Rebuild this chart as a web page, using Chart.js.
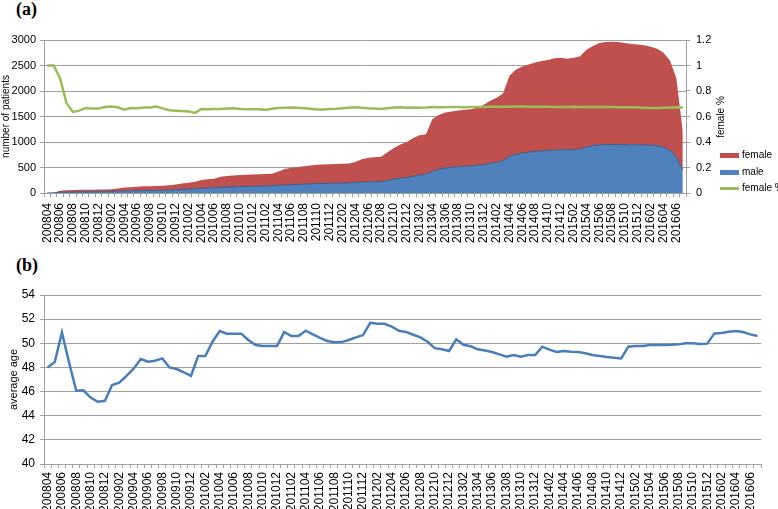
<!DOCTYPE html>
<html><head><meta charset="utf-8">
<script src="https://cdn.jsdelivr.net/npm/chart.js@4.4.1/dist/chart.umd.min.js"></script>
<style>
html,body{margin:0;padding:0;background:#fff;}
#wrap{position:relative;width:778px;height:509px;overflow:hidden;background:#fff;font-family:"Liberation Sans",Arial,sans-serif;}
canvas{position:absolute;left:0;}
.ptitle{position:absolute;font-family:"Liberation Serif","Times New Roman",serif;font-weight:bold;font-size:18px;line-height:18px;color:#000;}
.lg{position:absolute;left:720px;font-size:10px;line-height:12px;color:#000;white-space:nowrap;}
.sw{display:inline-block;width:19px;vertical-align:middle;margin-right:3px;}
.rt{position:absolute;font-size:10px;color:#000;white-space:nowrap;transform:translate(-50%,-50%) rotate(-90deg);}
</style></head>
<body>
<div id="wrap">
  <div class="ptitle" style="left:16px;top:0px;">(a)</div>
  <div class="ptitle" style="left:16px;top:256px;">(b)</div>
  <canvas id="ca" width="778" height="250" style="top:0px"></canvas>
  <canvas id="cb" width="778" height="259" style="top:250px"></canvas>
  <div class="rt" style="left:720px;top:117px;">female %</div>
  <div class="lg" style="top:149px;"><span class="sw" style="height:5px;background:#C0504D"></span>female</div>
  <div class="lg" style="top:166px;"><span class="sw" style="height:5px;background:#4F81BD"></span>male</div>
  <div class="lg" style="top:182px;"><span class="sw" style="height:3px;background:#9BBB59"></span>female %</div>
</div>
<script>
const months = ["200804","200805","200806","200807","200808","200809","200810","200811","200812",
"200901","200902","200903","200904","200905","200906","200907","200908","200909","200910","200911","200912",
"201001","201002","201003","201004","201005","201006","201007","201008","201009","201010","201011","201012",
"201101","201102","201103","201104","201105","201106","201107","201108","201109","201110","201111","201112",
"201201","201202","201203","201204","201205","201206","201207","201208","201209","201210","201211","201212",
"201301","201302","201303","201304","201305","201306","201307","201308","201309","201310","201311","201312",
"201401","201402","201403","201404","201405","201406","201407","201408","201409","201410","201411","201412",
"201501","201502","201503","201504","201505","201506","201507","201508","201509","201510","201511","201512",
"201601","201602","201603","201604","201605","201606","201607"];

const male = [0,3,15,18,20,22,23,24,25,26,
28,35,40,42,45,47,50,52,55,58,
62,68,75,82,92,98,102,110,116,120,
124,128,132,136,138,142,150,158,164,168,
172,178,184,188,190,192,194,197,205,210,
220,222,225,245,270,290,300,330,355,370,
420,465,490,505,515,525,530,540,555,580,
605,630,720,760,780,800,815,825,832,840,
848,850,852,860,900,930,945,950,952,950,
948,946,945,942,938,930,900,840,700,450];

const female = [0,2,30,37,40,40,41,42,43,44,
44,55,70,73,80,83,82,83,85,92,
103,117,125,138,163,172,178,210,219,225,
228,230,230,232,234,236,270,312,331,342,
353,362,368,372,375,378,381,383,405,450,
470,478,485,555,610,660,700,750,775,780,
1030,1065,1090,1095,1105,1105,1110,1130,1175,1230,
1265,1320,1580,1660,1700,1720,1745,1765,1778,1800,
1802,1780,1798,1820,1910,1950,1995,2010,2013,2010,
1992,1974,1965,1953,1932,1900,1850,1760,1550,750];

const femalePct = [1.0,1.0,0.90,0.707,0.636,0.646,0.667,0.662,0.662,0.675,
0.678,0.672,0.654,0.667,0.664,0.67,0.67,0.678,0.664,0.649,
0.646,0.643,0.64,0.628,0.659,0.656,0.659,0.659,0.662,0.664,
0.659,0.656,0.656,0.656,0.652,0.660,0.667,0.669,0.670,0.668,
0.665,0.660,0.655,0.654,0.658,0.660,0.664,0.668,0.672,0.668,
0.664,0.662,0.659,0.665,0.670,0.672,0.668,0.670,0.668,0.670,
0.674,0.672,0.673,0.675,0.674,0.673,0.674,0.675,0.675,0.676,
0.677,0.676,0.677,0.678,0.678,0.677,0.677,0.676,0.676,0.675,
0.675,0.675,0.676,0.675,0.674,0.675,0.675,0.674,0.674,0.673,
0.673,0.672,0.670,0.668,0.666,0.667,0.668,0.670,0.672,0.670];

const avgAge = [48.0,48.45,50.9,48.4,46.07,46.1,45.5,45.16,45.24,46.54,
46.73,47.3,47.9,48.7,48.47,48.56,48.75,48.0,47.87,47.6,
47.3,48.94,48.94,50.13,51.02,50.8,50.8,50.8,50.27,49.86,
49.77,49.77,49.77,50.93,50.6,50.6,51.04,50.74,50.44,50.19,
50.08,50.1,50.27,50.49,50.68,51.7,51.62,51.62,51.38,51.04,
50.93,50.71,50.49,50.13,49.6,49.5,49.36,50.33,49.88,49.75,
49.5,49.41,49.28,49.08,48.89,49.03,48.89,49.03,49.03,49.72,
49.47,49.28,49.36,49.3,49.28,49.17,49.03,48.94,48.86,48.8,
48.75,49.72,49.77,49.77,49.86,49.86,49.86,49.88,49.91,50.0,
50.0,49.94,49.97,50.82,50.85,50.96,51.02,50.93,50.74,50.6];

const leftTicksA = [0,500,1000,1500,2000,2500,3000];
const rightTicksA = [0,0.2,0.4,0.6,0.8,1,1.2];
const ticksB = [40,42,44,46,48,50,52,54];

Chart.defaults.font.family = '"Liberation Sans", Arial, sans-serif';
Chart.defaults.color = '#000';

const GRID = '#a0a0a0';
const plain = v => String(v);
function xAxis(h, pad){
  return {
    offset:true,
    grid:{offset:true, drawOnChartArea:false, drawTicks:true, tickLength:4, color:GRID},
    border:{color:GRID},
    ticks:{autoSkip:false, minRotation:90, maxRotation:90, padding:pad, font:{size:12}, color:'#000',
      callback:function(v,i){ return i%2===0 ? this.getLabelForValue(v) : ''; }},
    afterFit:s=>{ s.height = h; }
  };
}

new Chart(document.getElementById('ca'), {
  type:'line',
  data:{labels:months, datasets:[
    {label:'male', data:male, yAxisID:'y', backgroundColor:'#4F81BD', borderColor:'#3A5F8E', borderWidth:1, fill:'origin', pointRadius:0, tension:0, order:1},
    {label:'female', data:female, yAxisID:'y', backgroundColor:'#C0504D', borderColor:'rgba(192,80,77,0)', borderWidth:0, fill:'-1', pointRadius:0, tension:0, order:2},
    {label:'female %', data:femalePct, yAxisID:'y1', borderColor:'#9BBB59', borderWidth:2.5, fill:false, pointRadius:0, tension:0, order:0}
  ]},
  options:{
    responsive:false, animation:false, devicePixelRatio:1,
    layout:{padding:{top:40,right:0,bottom:0,left:0}},
    plugins:{legend:{display:false}, tooltip:{enabled:false}},
    scales:{
      x:xAxis(57,6),
      y:{stacked:true, min:0, max:3000,
        afterBuildTicks:s=>{ s.ticks = leftTicksA.map(v=>({value:v})); },
        grid:{color:GRID, tickLength:4}, border:{color:GRID},
        ticks:{padding:4, font:{size:11}, color:'#000', callback:plain},
        title:{display:true, text:'number of patients', font:{size:10}, padding:{top:0,bottom:0}, color:'#000'},
        afterFit:s=>{ s.width = 44; }},
      y1:{position:'right', min:0, max:1.2,
        afterBuildTicks:s=>{ s.ticks = rightTicksA.map(v=>({value:v})); },
        grid:{drawOnChartArea:false, tickLength:4, color:GRID}, border:{color:GRID},
        ticks:{padding:6, font:{size:11}, color:'#000', callback:plain},
        afterFit:s=>{ s.width = 92; }}
    }
  }
});

new Chart(document.getElementById('cb'), {
  type:'line',
  data:{labels:months, datasets:[
    {label:'average age', data:avgAge, borderColor:'#4A7EBB', borderWidth:2.5, fill:false, pointRadius:0, tension:0}
  ]},
  options:{
    responsive:false, animation:false, devicePixelRatio:1,
    layout:{padding:{top:45,right:17,bottom:0,left:0}},
    plugins:{legend:{display:false}, tooltip:{enabled:false}},
    scales:{
      x:xAxis(45,4),
      y:{min:40, max:54,
        afterBuildTicks:s=>{ s.ticks = ticksB.map(v=>({value:v})); },
        grid:{color:GRID, tickLength:4}, border:{color:GRID},
        ticks:{padding:5, font:{size:12}, color:'#000', callback:plain},
        title:{display:true, text:'average age', font:{size:11}, padding:{top:7,bottom:0}, color:'#000'},
        afterFit:s=>{ s.width = 44; }}
    }
  }
});
</script>
</body></html>
